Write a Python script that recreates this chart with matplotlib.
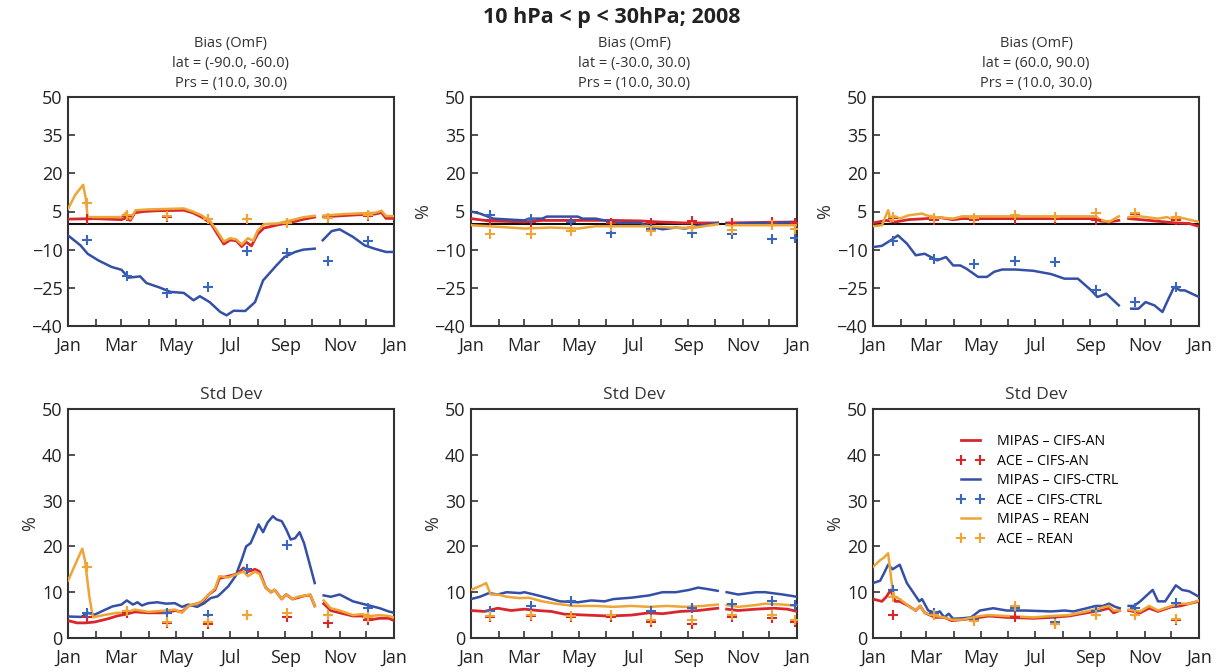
import numpy as np
import matplotlib
matplotlib.use("Agg")
import matplotlib.pyplot as plt

plt.rcParams['font.family'] = ['Open Sans', 'DejaVu Sans']

NAN = np.nan
MONTH_STARTS = [0, 31, 60, 91, 121, 152, 182, 213, 244, 274, 305, 335, 366]
MONTH_LABELS = ['Jan', 'Mar', 'May', 'Jul', 'Sep', 'Nov', 'Jan']
SUPTITLE = '10 hPa < p < 30hPa; 2008'
LAT_LABELS = ['(-90.0, -60.0)', '(-30.0, 30.0)', '(60.0, 90.0)']
SERIES_LABELS = ['MIPAS – CIFS-AN', 'ACE – CIFS-AN', 'MIPAS – CIFS-CTRL',
                 'ACE – CIFS-CTRL', 'MIPAS – REAN', 'ACE – REAN']

# ---------------- Top-left (bias, 90S-60S) ----------------
TL_RED_D = [0, 30, 60, 65, 70, 75, 85, 100, 115, 130, 140, 150, 160, 168, 175, 182, 189, 195, 200, 206, 213, 220, 235, 250, 265, 277, 282, 287, 310, 330, 345, 352, 357, 366]
TL_RED_V = [2, 2.2, 1.8, 2.5, 1.5, 4.5, 5, 5.3, 5.4, 5.5, 4.5, 2.8, 0.5, -4, -7.8, -6.2, -6.5, -8.8, -7, -8.5, -3.8, -1.5, -0.3, 0.7, 2, 2.8, NAN, 2.9, 3.4, 3.8, 4.0, 4.6, 2.3, 2.3]
TL_ORA_D = [0, 8, 17, 20, 22, 40, 60, 65, 70, 76, 90, 110, 130, 140, 150, 160, 168, 175, 182, 189, 195, 202, 208, 213, 220, 235, 250, 265, 277, 282, 287, 310, 330, 345, 352, 357, 366]
TL_ORA_V = [6, 11.5, 15.5, 10, 2.8, 2.8, 2.8, 4.5, 2, 5.5, 5.8, 6, 6.2, 5, 3.5, 1, -3, -6.8, -5.5, -6, -8, -5.5, -6.5, -2.5, 0, 0.3, 1.5, 2.8, 3.3, NAN, 3.4, 4.0, 4.3, 4.5, 5.3, 3.2, 3.2]
TL_BLU_D = [0, 14, 22, 34, 49, 60, 68, 81, 88, 103, 115, 130, 141, 148, 159, 171, 178, 186, 199, 210, 219, 234, 243, 255, 264, 277, 282, 286, 296, 305, 320, 333, 344, 357, 366]
TL_BLU_V = [-4.4, -8.3, -11.6, -14.2, -16.8, -17.9, -21, -20.5, -23.1, -24.9, -26.6, -27, -29.9, -28.3, -30.6, -34.5, -35.8, -34, -34.1, -30.6, -22.1, -16.2, -12.9, -10.9, -10, -9.6, NAN, -6.3, -2.7, -2, -5, -8.3, -9.6, -10.9, -10.9]
TL_ACE_D = [21, 66, 111, 157, 201, 246, 292, 337]
TL_ACE_RED = [2.0, 3.3, 3.0, 2.0, 2.0, 0.3, 2.3, 3.2]
TL_ACE_BLU = [-6.1, -20.2, -26.9, -24.7, -10.7, -11.2, -14.6, -6.6]
TL_ACE_ORA = [8.5, 3.8, 3.2, 2.2, 2.2, 0.5, 2.6, 3.5]

# ---------------- Top-middle (bias, 30S-30N) ----------------
TM_RED_D = [0, 20, 60, 80, 140, 160, 190, 210, 240, 277, 282, 287, 366]
TM_RED_V = [2.2, 1.3, 0.9, 1.5, 1.5, 1.5, 1.3, 0.9, 0.5, 0.5, NAN, 0.5, 0.9]
TM_ORA_D = [0, 30, 60, 90, 120, 140, 200, 230, 250, 277, 282, 287, 366]
TM_ORA_V = [-0.4, -1.0, -1.7, -1.3, -1.7, -0.8, -0.8, -1.4, -1.4, 0.0, NAN, -0.4, -0.4]
TM_BLU_D = [0, 10, 25, 60, 65, 80, 85, 120, 125, 140, 150, 165, 190, 200, 215, 230, 240, 260, 277, 282, 287, 366]
TM_BLU_V = [5, 4.2, 2.2, 1.5, 2.2, 2.2, 3.0, 3.0, 2.2, 2.2, 1.5, 0.5, 0.5, -0.8, -2.0, -1.3, -1.7, -0.4, 0.5, NAN, 0.3, 0.7]
TM_ACE_D = [21, 67, 112, 157, 202, 248, 293, 338, 364]
TM_ACE_RED = [1.5, 0.9, 1.3, 0.5, 0.5, 1.3, 0.5, 0.9, 0.5]
TM_ACE_BLU = [3.5, 2.2, 1.0, -3.4, -1.7, -3.4, -3.7, -5.7, -5.3]
TM_ACE_ORA = [-3.7, -4.0, -2.8, -0.8, -2.6, -1.0, -2.4, -0.4, -1.7]

# ---------------- Top-right (bias, 60N-90N) ----------------
TR_RED_D = [0, 15, 25, 40, 60, 75, 90, 100, 250, 255, 265, 276, 282, 287, 310, 340, 355, 366]
TR_RED_V = [0.5, 1.5, 0.9, 1.8, 2.2, 2.6, 1.8, 2.2, 2.2, 1.3, 0.9, 1.5, NAN, 2.2, 1.5, 0.5, 0.3, -0.9]
TR_ORA_D = [0, 10, 17, 20, 25, 30, 40, 55, 60, 70, 90, 100, 250, 255, 265, 276, 282, 287, 300, 320, 330, 340, 345, 366]
TR_ORA_V = [-0.8, -0.4, 5.5, 1.3, 3.1, 2.2, 3.5, 4.2, 3.5, 2.8, 2.2, 3.1, 3.1, 1.8, 0.9, 3.1, NAN, 2.8, 3.1, 2.2, 2.8, 1.5, 2.6, 0.9]
TR_BLU_D = [0, 10, 20, 28, 38, 48, 58, 65, 72, 82, 90, 98, 105, 118, 128, 136, 145, 160, 180, 200, 215, 230, 245, 252, 262, 276, 282, 290, 298, 306, 316, 325, 330, 338, 345, 350, 366]
TR_BLU_V = [-9, -8.5, -6.3, -4.4, -7.6, -12.2, -11.6, -12.9, -14.2, -12.9, -16.2, -16.2, -17.5, -20.7, -20.7, -18.7, -17.8, -17.8, -18.3, -19.6, -21.4, -21.4, -26, -28.6, -27.3, -31.9, NAN, -33.2, -33.2, -30.6, -31.9, -34.5, -30.6, -24.7, -26.0, -26.0, -28.6]
TR_ACE_D = [23, 68, 113, 159, 204, 250, 294, 340]
TR_ACE_RED = [2.6, 1.5, 1.5, 2.2, 2.2, 1.5, 3.9, 1.5]
TR_ACE_BLU = [-6.6, -13.5, -15.5, -14.5, -14.9, -26, -30.6, -24.7]
TR_ACE_ORA = [2.8, 2.6, 2.6, 3.5, 2.8, 4.5, 4.5, 2.8]

# ---------------- Bottom-left (std dev, 90S-60S) ----------------
BL_RED_D = [0, 10, 20, 30, 45, 55, 65, 75, 90, 110, 120, 128, 135, 145, 150, 158, 165, 170, 180, 190, 197, 202, 210, 215, 222, 228, 232, 240, 245, 252, 258, 265, 272, 277, 282, 287, 295, 305, 320, 330, 340, 350, 360, 366]
BL_RED_V = [3.8, 3.3, 3.3, 3.5, 4.2, 4.8, 5.2, 5.7, 5.5, 5.5, 6.0, 5.7, 7.0, 7.5, 7.7, 9.5, 10.5, 13, 13.5, 14, 15.3, 14.5, 15, 14.5, 11, 10, 10.5, 8.5, 9.5, 8.5, 8.8, 9.2, 9.4, 7, NAN, 7.5, 6, 5.5, 4.8, 4.8, 4.0, 4.3, 4.3, 3.8]
BL_ORA_D = [0, 8, 16, 19, 24, 28, 40, 55, 65, 75, 90, 110, 120, 128, 135, 145, 150, 158, 165, 170, 180, 190, 197, 202, 210, 215, 222, 228, 232, 240, 245, 252, 258, 265, 272, 277, 282, 287, 295, 305, 320, 330, 340, 350, 360, 366]
BL_ORA_V = [12.5, 16, 19.5, 17, 9, 4.5, 5, 5.5, 5.5, 6.2, 5.7, 6.0, 6.2, 5.5, 7, 7.5, 8, 9.5, 10.8, 13.5, 13.2, 14, 14.5, 13.5, 14.5, 14, 11, 10, 10.5, 8.5, 9.5, 8.5, 9, 9.2, 9.5, 7, NAN, 8.2, 6.5, 6, 5, 5.2, 4.8, 5, 4.8, 4.5]
BL_BLU_D = [0, 15, 22, 30, 42, 50, 60, 66, 73, 78, 83, 90, 100, 110, 120, 128, 135, 145, 153, 160, 168, 172, 180, 188, 195, 200, 205, 210, 214, 219, 224, 230, 234, 240, 245, 250, 255, 260, 265, 270, 277, 282, 287, 295, 305, 320, 330, 340, 350, 360, 366]
BL_BLU_V = [4.7, 4.6, 5.5, 5.1, 6.2, 6.9, 7.3, 8.2, 7.3, 7.8, 7.1, 7.6, 7.8, 7.5, 7.6, 6.8, 7.3, 6.8, 7.6, 8.7, 9.1, 9.8, 11.3, 13.5, 17.1, 20, 20.7, 22.9, 24.8, 23.1, 25.2, 26.6, 25.9, 25.5, 23.7, 21.5, 21.8, 23.1, 20.7, 17.1, 12, NAN, 9.3, 9, 9.5, 8, 7.5, 7, 6.5, 5.8, 5.5]
BL_ACE_D = [21, 66, 111, 157, 201, 246, 292, 337]
BL_ACE_RED = [4.5, 5.5, 3.3, 3.0, 5.0, 4.5, 3.3, 4.0]
BL_ACE_BLU = [5.5, 6.0, 5.5, 5.0, 15.0, 20.2, 5.0, 6.5]
BL_ACE_ORA = [15.5, 6.0, 3.5, 3.5, 5.0, 5.5, 5.0, 4.5]

# ---------------- Bottom-middle (std dev, 30S-30N) ----------------
BM_RED_D = [0, 15, 30, 45, 60, 75, 90, 105, 130, 155, 180, 200, 215, 235, 255, 277, 282, 287, 300, 320, 340, 355, 366]
BM_RED_V = [6, 5.8, 6.5, 6, 6.3, 6, 5.8, 5.2, 5, 4.8, 5, 5.5, 5.3, 5.8, 6, 6.5, NAN, 6.3, 6, 6.3, 6.5, 6.3, 5.8]
BM_ORA_D = [0, 12, 17, 22, 30, 40, 55, 65, 80, 95, 115, 140, 160, 180, 200, 220, 240, 260, 277, 282, 287, 300, 320, 330, 350, 366]
BM_ORA_V = [10.5, 11.5, 12, 9.5, 9.5, 9, 8.7, 8.8, 8, 7.5, 7, 7, 6.8, 7, 6.8, 7, 6.8, 7, 7.3, NAN, 7.2, 6.8, 7.2, 7.5, 7.3, 7]
BM_BLU_D = [0, 10, 20, 30, 40, 55, 60, 75, 85, 100, 120, 135, 150, 160, 180, 200, 215, 230, 245, 255, 265, 277, 282, 287, 300, 320, 330, 350, 366]
BM_BLU_V = [8.5, 9, 9.8, 9.5, 10, 9.8, 10, 9.3, 8.8, 8, 7.8, 8.2, 8, 8.5, 8.8, 9.3, 10, 10, 10.5, 11, 10.7, 10.3, NAN, 10, 9.5, 10, 10, 9.5, 9]
BM_ACE_D = [21, 67, 112, 157, 202, 248, 293, 338, 364]
BM_ACE_RED = [4.5, 4.8, 4.5, 4.5, 3.5, 3.0, 4.5, 4.3, 3.5]
BM_ACE_BLU = [5.8, 7.0, 8.0, 5.0, 6.0, 6.5, 7.5, 8.0, 7.3]
BM_ACE_ORA = [4.8, 5.0, 4.8, 5.0, 4.0, 4.0, 5.0, 5.0, 4.0]

# ---------------- Bottom-right (std dev, 60N-90N) ----------------
BR_RED_D = [0, 10, 15, 20, 25, 30, 40, 48, 53, 58, 70, 80, 88, 100, 120, 130, 150, 180, 200, 220, 240, 255, 265, 270, 277, 282, 287, 300, 310, 320, 335, 345, 355, 366]
BR_RED_V = [8.5, 8, 9, 10.5, 8, 8, 7, 6, 7, 5.5, 4.5, 4.5, 3.8, 4, 4.5, 4.8, 4.5, 4.3, 4.5, 4.8, 5.5, 6, 6.5, 5.5, 6, NAN, 6, 5.5, 6.5, 5.8, 6.8, 7, 7.5, 8]
BR_ORA_D = [0, 8, 12, 17, 21, 24, 30, 40, 48, 53, 58, 70, 80, 88, 100, 120, 130, 150, 180, 200, 220, 240, 255, 265, 270, 277, 282, 287, 300, 310, 320, 335, 345, 355, 366]
BR_ORA_V = [15.5, 17, 17.5, 18.5, 12, 9, 8.5, 7, 6, 7, 5.5, 4.8, 4.5, 4, 4, 4.8, 5, 4.8, 4.5, 4.8, 5, 5.8, 6.5, 7, 6, 6, NAN, 6.2, 5.8, 7, 6, 7, 7.5, 7.5, 8.2]
BR_BLU_D = [0, 8, 12, 17, 22, 30, 38, 45, 52, 55, 62, 70, 75, 80, 85, 90, 100, 110, 120, 135, 150, 170, 200, 215, 225, 240, 250, 258, 265, 272, 277, 282, 287, 293, 300, 314, 320, 328, 340, 347, 355, 366]
BR_BLU_V = [12, 12.5, 14, 16, 15, 16, 12, 10, 8, 8.5, 6, 5.5, 5.8, 4.5, 5.3, 4.2, 4.3, 4.5, 6, 6.5, 6, 6, 5.8, 6, 5.8, 6.5, 7, 7, 7.5, 6.8, 6.5, NAN, 7, 7, 8, 10.5, 8, 8, 11.5, 10.5, 10.2, 9]
BR_ACE_D = [23, 68, 113, 159, 204, 250, 294, 340]
BR_ACE_RED = [5.0, 5.0, 4.0, 4.5, 3.0, 5.0, 5.0, 4.0]
BR_ACE_BLU = [10.5, 5.5, 4.0, 6.5, 3.5, 6.0, 6.5, 7.7]
BR_ACE_ORA = [9.0, 5.0, 3.8, 7.0, 3.0, 5.0, 5.0, 4.2]

RED = '#d8262c'
BLUE = '#3450a6'
BLUE_M = '#3a66bf'
ORANGE = '#eea535'
FRAME = '#333333'

panels = [
    dict(red=(TL_RED_D, TL_RED_V), ora=(TL_ORA_D, TL_ORA_V), blu=(TL_BLU_D, TL_BLU_V),
         aced=TL_ACE_D, acer=TL_ACE_RED, aceb=TL_ACE_BLU, aceo=TL_ACE_ORA),
    dict(red=(TM_RED_D, TM_RED_V), ora=(TM_ORA_D, TM_ORA_V), blu=(TM_BLU_D, TM_BLU_V),
         aced=TM_ACE_D, acer=TM_ACE_RED, aceb=TM_ACE_BLU, aceo=TM_ACE_ORA),
    dict(red=(TR_RED_D, TR_RED_V), ora=(TR_ORA_D, TR_ORA_V), blu=(TR_BLU_D, TR_BLU_V),
         aced=TR_ACE_D, acer=TR_ACE_RED, aceb=TR_ACE_BLU, aceo=TR_ACE_ORA),
    dict(red=(BL_RED_D, BL_RED_V), ora=(BL_ORA_D, BL_ORA_V), blu=(BL_BLU_D, BL_BLU_V),
         aced=BL_ACE_D, acer=BL_ACE_RED, aceb=BL_ACE_BLU, aceo=BL_ACE_ORA),
    dict(red=(BM_RED_D, BM_RED_V), ora=(BM_ORA_D, BM_ORA_V), blu=(BM_BLU_D, BM_BLU_V),
         aced=BM_ACE_D, acer=BM_ACE_RED, aceb=BM_ACE_BLU, aceo=BM_ACE_ORA),
    dict(red=(BR_RED_D, BR_RED_V), ora=(BR_ORA_D, BR_ORA_V), blu=(BR_BLU_D, BR_BLU_V),
         aced=BR_ACE_D, acer=BR_ACE_RED, aceb=BR_ACE_BLU, aceo=BR_ACE_ORA),
]

fig = plt.figure(figsize=(12.24, 6.72), dpi=100)
lefts = [68 / 1224, 471 / 1224, 873 / 1224]
w = 326 / 1224
h = 229 / 672
bottoms = [1 - 326 / 672, 1 - 638 / 672]

fig.text(0.5, 1 - 18 / 672, SUPTITLE, ha='center', va='center',
         fontsize=15.5, fontweight='bold', color='#222222')

for i, p in enumerate(panels):
    row, col = divmod(i, 3)
    ax = fig.add_axes([lefts[col], bottoms[row], w, h])
    ax.plot(*p['red'], color=RED, lw=2.0, label=SERIES_LABELS[0], zorder=3)
    ax.plot(*p['blu'], color=BLUE, lw=1.8, label=SERIES_LABELS[2], zorder=3)
    ax.plot(*p['ora'], color=ORANGE, lw=1.8, label=SERIES_LABELS[4], zorder=4)
    mk = dict(marker='+', ls='none', ms=7, mew=1.5, zorder=5)
    ax.plot(p['aced'], p['acer'], color=RED, label=SERIES_LABELS[1], **mk)
    ax.plot(p['aced'], p['aceb'], color=BLUE_M, label=SERIES_LABELS[3], **mk)
    ax.plot(p['aced'], p['aceo'], color=ORANGE, label=SERIES_LABELS[5], **mk)

    ax.set_xlim(0, 366)
    ax.set_xticks(MONTH_STARTS[::2])
    ax.set_xticklabels(MONTH_LABELS)
    ax.set_xticks(MONTH_STARTS, minor=True)
    ax.tick_params(axis='both', which='both', direction='in', length=5, width=1.2,
                   colors=FRAME, labelcolor='#222222', labelsize=13, pad=4,
                   top=False, right=False)
    ax.tick_params(axis='x', which='major', pad=8)
    for s in ax.spines.values():
        s.set_color(FRAME)
        s.set_linewidth(1.5)

    if row == 0:
        ax.set_ylim(-40, 50)
        ax.set_yticks([-40, -25, -10, 5, 20, 35, 50])
        ax.axhline(0, color='#111111', lw=1.5, zorder=2)
        ax.set_title('Bias (OmF)\nlat = ' + LAT_LABELS[col] + '\nPrs = (10.0, 30.0)',
                     fontsize=10.5, color='#333333', linespacing=1.45, pad=7)
        if col > 0:
            ax.set_ylabel('%', fontsize=13, color='#333333', labelpad=2)
    else:
        ax.set_ylim(0, 50)
        ax.set_yticks([0, 10, 20, 30, 40, 50])
        ax.set_title('Std Dev', fontsize=12.5, color='#333333', pad=7)
        ax.set_ylabel('%', fontsize=13, color='#333333', labelpad=2)
        if col == 2:
            handles, labels = ax.get_legend_handles_labels()
            order = [0, 3, 1, 4, 2, 5]
            ax.legend([handles[k] for k in order], [labels[k] for k in order],
                      loc='upper center', bbox_to_anchor=(0.505, 0.94), frameon=False,
                      fontsize=10.2, numpoints=2, handlelength=2.0, handletextpad=0.9,
                      labelspacing=0.32, borderpad=0.3)

fig.savefig('out.png', dpi=100)
